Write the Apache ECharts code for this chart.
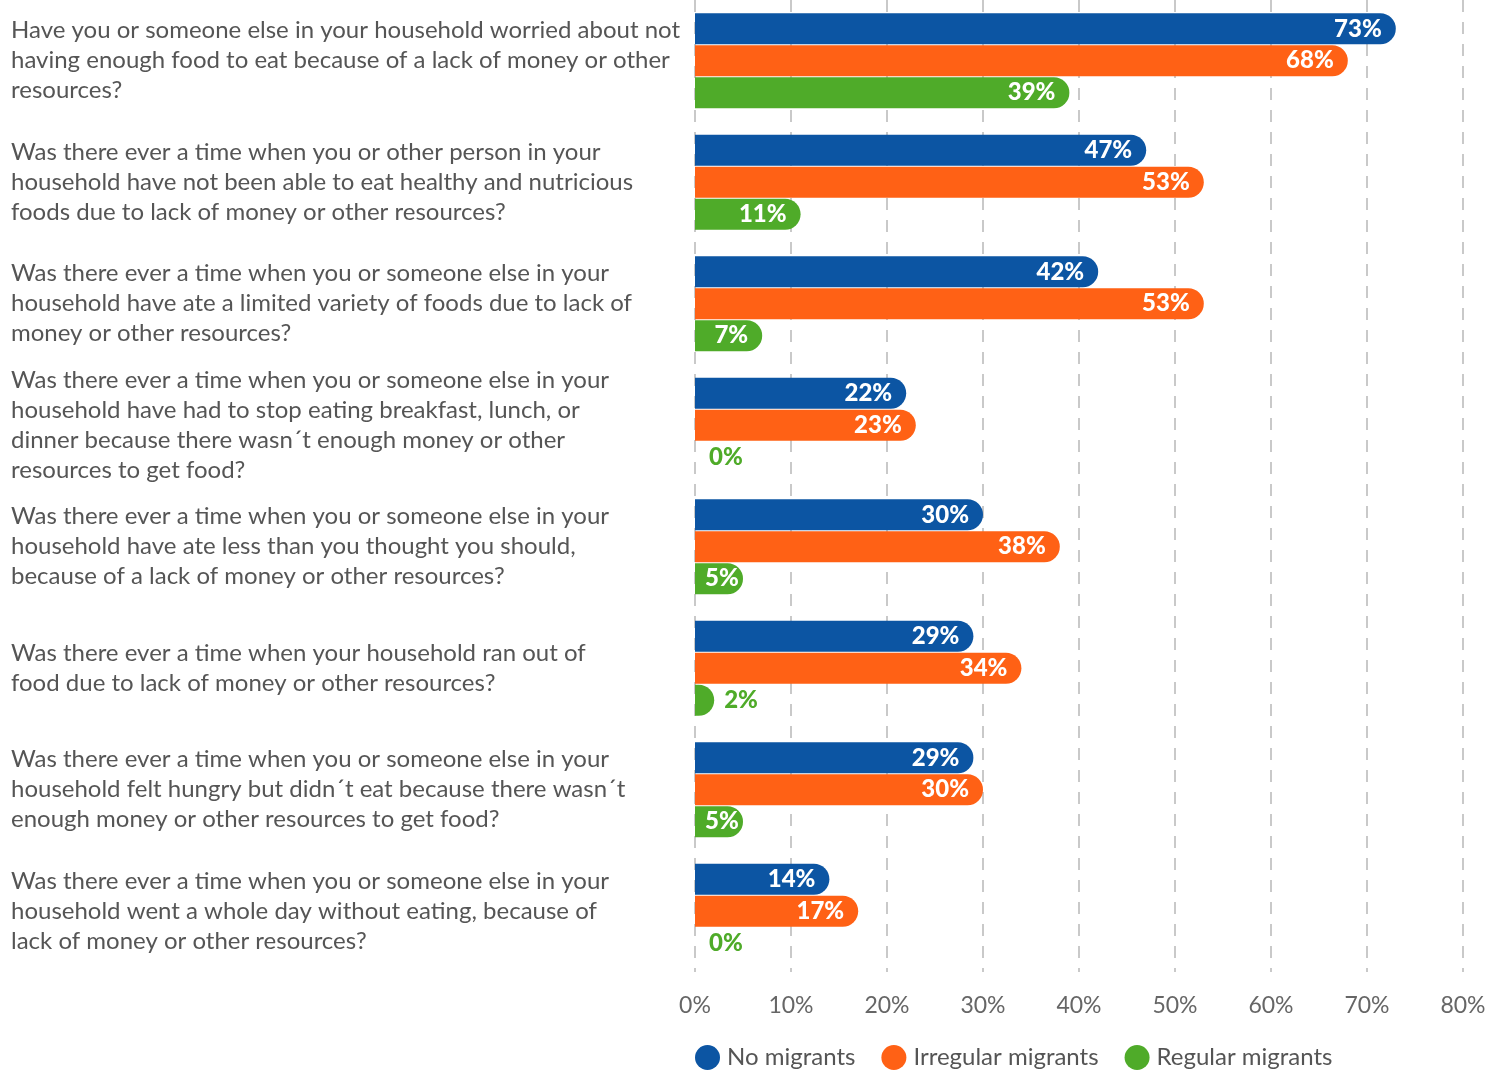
<!DOCTYPE html>
<html>
<head>
<meta charset="utf-8">
<script src="https://cdn.jsdelivr.net/npm/echarts@6/dist/echarts.min.js"></script>
<style>
  html, body { margin: 0; padding: 0; background: #fff; }
  #chart { width: 1498px; height: 1071px; }
</style>
</head>
<body>
<div id="chart"></div>
<script>
// Survey questions (wrapped as they are printed beside the bars)
const questions = [
  "Have you or someone else in your household worried about not\nhaving enough food to eat because of a lack of money or other\nresources?",
  "Was there ever a time when you or other person in your\nhousehold have not been able to eat healthy and nutricious\nfoods due to lack of money or other resources?",
  "Was there ever a time when you or someone else in your\nhousehold have ate a limited variety of foods due to lack of\nmoney or other resources?",
  "Was there ever a time when you or someone else in your\nhousehold have had to stop eating breakfast, lunch, or\ndinner because there wasn\u00b4t enough money or other\nresources to get food?",
  "Was there ever a time when you or someone else in your\nhousehold have ate less than you thought you should,\nbecause of a lack of money or other resources?",
  "Was there ever a time when your household ran out of\nfood due to lack of money or other resources?",
  "Was there ever a time when you or someone else in your\nhousehold felt hungry but didn\u00b4t eat because there wasn\u00b4t\nenough money or other resources to get food?",
  "Was there ever a time when you or someone else in your\nhousehold went a whole day without eating, because of\nlack of money or other resources?"
];

const seriesNames = ["No migrants", "Irregular migrants", "Regular migrants"];

// Share of households answering yes (%)
const noMigrants = [73, 47, 42, 22, 30, 29, 29, 14];
const irregularMigrants = [68, 53, 53, 23, 38, 34, 30, 17];
const regularMigrants = [39, 11, 7, 0, 5, 2, 5, 0];

const xTicks = [0, 10, 20, 30, 40, 50, 60, 70, 80];

const colors = ["#0c55a3", "#ff6115", "#4fab29"];

const chart = echarts.init(document.getElementById("chart"));

// Label placement depends on bar length: tiny bars get an outside label
// in the bar colour, short bars start their label from the left edge
function toItems(values, color) {
  return values.map(v => {
    if (v < 4) {
      return {
        value: v,
        label: { position: "right", color: color, distance: v === 0 ? 14 : 10 }
      };
    }
    if (v < 6) {
      return { value: v, label: { position: "insideLeft", distance: 10 } };
    }
    return { value: v };
  });
}

function makeSeries(name, values, color) {
  return {
    name: name,
    type: "bar",
    data: toItems(values, color),
    barWidth: 31,
    barGap: "3%",
    itemStyle: { color: color, borderRadius: [0, 16, 16, 0] },
    label: {
      show: true,
      position: "insideRight",
      distance: 14,
      formatter: "{c}%",
      color: "#ffffff",
      fontFamily: "Lato",
      fontWeight: 900,
      fontSize: 24
    },
    emphasis: { disabled: true }
  };
}

chart.setOption({
  animation: false,
  textStyle: { fontFamily: "Lato" },
  grid: { left: 695, right: 35, top: -4, bottom: 99, containLabel: false },
  legend: {
    bottom: -4,
    left: 690,
    icon: "circle",
    itemWidth: 25,
    itemHeight: 25,
    itemGap: 26,
    textStyle: { fontFamily: "Lato", fontSize: 24, color: "#555555", padding: [0, 0, 0, 2] },
    data: seriesNames
  },
  xAxis: {
    type: "value",
    min: xTicks[0],
    max: xTicks[xTicks.length - 1],
    interval: 10,
    axisLine: { show: false },
    axisTick: { show: false },
    splitLine: { show: true, lineStyle: { type: [12, 10], color: "#b8b8b8", width: 1.5 } },
    axisLabel: {
      formatter: "{value}%",
      fontFamily: "Lato",
      fontSize: 23,
      color: "#666666",
      margin: 22
    }
  },
  yAxis: {
    type: "category",
    inverse: true,
    data: questions,
    axisLine: { show: false },
    axisTick: { show: false },
    axisLabel: {
      align: "left",
      margin: 684,
      fontFamily: "Lato",
      fontSize: 24,
      lineHeight: 30,
      color: "#555555"
    }
  },
  series: [
    makeSeries(seriesNames[0], noMigrants, colors[0]),
    makeSeries(seriesNames[1], irregularMigrants, colors[1]),
    makeSeries(seriesNames[2], regularMigrants, colors[2])
  ]
});
</script>
</body>
</html>
